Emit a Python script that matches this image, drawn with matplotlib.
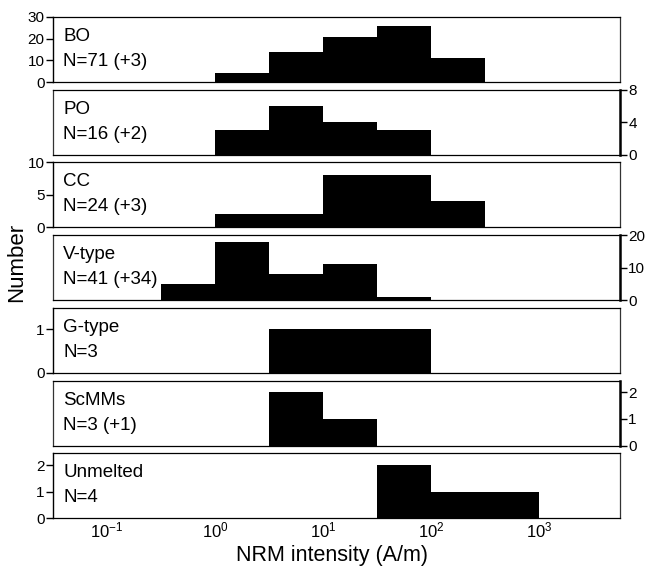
import numpy as np
import matplotlib
matplotlib.use("Agg")
import matplotlib.pyplot as plt

plt.rcParams["font.family"] = ["Liberation Sans", "DejaVu Sans"]
plt.rcParams["mathtext.fontset"] = "custom"
plt.rcParams["mathtext.rm"] = "Liberation Sans"

# bin edges: half-decade bins from 10^-0.5 to 10^3
bin_exp = [-0.5, 0.0, 0.5, 1.0, 1.5, 2.0, 2.5, 3.0]

# counts per bin
names = ["BO", "PO", "CC", "V-type", "G-type", "ScMMs", "Unmelted"]
n_labels = ["N=71 (+3)", "N=16 (+2)", "N=24 (+3)", "N=41 (+34)", "N=3", "N=3 (+1)", "N=4"]
bo = [0, 4, 14, 21, 26, 11, 0]
po = [0, 3, 6, 4, 3, 0, 0]
cc = [0, 2, 2, 8, 8, 4, 0]
vtype = [5, 18, 8, 11, 1, 0, 0]
gtype = [0, 0, 1, 1, 1, 0, 0]
scmms = [0, 0, 2, 1, 0, 0, 0]
unmelted = [0, 0, 0, 0, 2, 1, 1]
counts = [bo, po, cc, vtype, gtype, scmms, unmelted]

y_max = [30, 8, 10, 20, 1.5, 2.45, 2.45]
y_ticks = [[0, 10, 20, 30], [0, 4, 8], [0, 5, 10], [0, 10, 20], [0, 1], [0, 1, 2], [0, 1, 2]]
y_side = ["left", "right", "left", "right", "left", "right", "left"]

x_ticks = [0.1, 1, 10, 100, 1000]
x_ticklabels = [r"$\mathregular{10^{-1}}$", r"$\mathregular{10^{0}}$", r"$\mathregular{10^{1}}$",
                r"$\mathregular{10^{2}}$", r"$\mathregular{10^{3}}$"]

W, H = 650, 566
fig = plt.figure(figsize=(W / 100, H / 100), dpi=100)

edges = 10 ** np.array(bin_exp)
left_px, right_px = 53, 620
top0, pitch, height = 17, 72.7, 65

for i in range(len(names)):
    top = top0 + pitch * i
    ax = fig.add_axes([left_px / W, 1 - (top + height) / H,
                       (right_px - left_px) / W, height / H])
    ax.stairs(counts[i], edges, fill=True, color="black", lw=0)
    ax.set_xscale("log")
    ax.set_xlim(10 ** -1.5, 10 ** 3.75)
    ax.set_ylim(0, y_max[i])
    ax.set_yticks(y_ticks[i])
    ax.minorticks_off()
    ax.tick_params(axis="x", length=0, labelbottom=False)
    ax.tick_params(axis="y", direction="out", length=5, width=1,
                   labelsize=11, pad=1)
    for s in ax.spines.values():
        s.set_linewidth(0.9)
        s.set_color("#333333")
    ax.spines["top"].set_color("black")
    ax.spines["bottom"].set_color("black")
    side = y_side[i]
    ax.spines[side].set_color("black")
    if side == "right":
        ax.yaxis.tick_right()
        ax.spines["right"].set_linewidth(1.8)
    else:
        ax.yaxis.tick_left()
        ax.spines["left"].set_linewidth(1.0)

    ax.text(0.018, 0.63, names[i], transform=ax.transAxes, fontsize=13.5,
            va="baseline", ha="left")
    ax.text(0.018, 0.245, n_labels[i], transform=ax.transAxes, fontsize=13.5,
            va="baseline", ha="left")

    if i == len(names) - 1:
        ax.set_xticks(x_ticks)
        ax.set_xticklabels(x_ticklabels)
        ax.tick_params(axis="x", labelbottom=True, labelsize=12, pad=2)

fig.text(0.026, 1 - 262 / H, "Number", rotation=90, fontsize=16,
         ha="center", va="center")
fig.text(332 / W, 1 - 556 / H, "NRM intensity (A/m)", fontsize=15.5,
         ha="center", va="center")

fig.savefig("out.png", dpi=100)
